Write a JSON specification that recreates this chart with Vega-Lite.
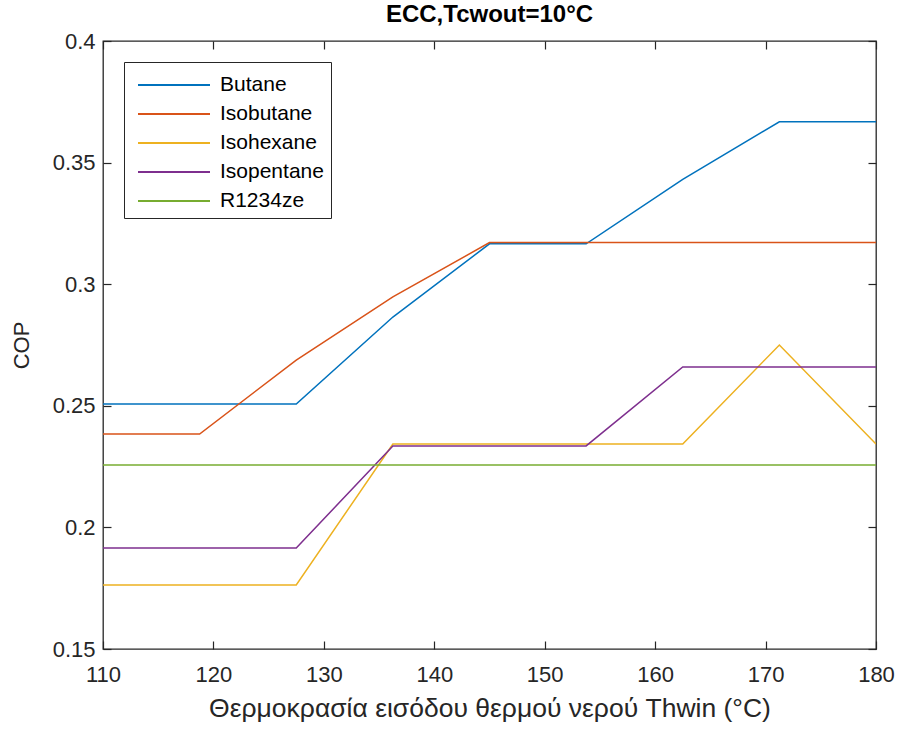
{
  "$schema": "https://vega.github.io/schema/vega-lite/v6.json",
  "width": 773,
  "height": 608,
  "autosize": {"type": "none"},
  "padding": {"left": 103, "top": 41, "right": 27, "bottom": 82},
  "background": "white",
  "title": {"text": "ECC,Tcwout=10°C", "font": "Liberation Sans", "fontSize": 24, "fontWeight": "bold", "color": "#000000", "offset": 3, "anchor": "middle"},
  "config": {
    "view": {"stroke": "#262626", "strokeWidth": 1.3},
    "axis": {"grid": false, "domain": false, "labelFlush": false, "tickColor": "#262626", "tickWidth": 1.2, "labelColor": "#262626", "titleColor": "#262626", "labelFont": "Liberation Sans", "titleFont": "Liberation Sans", "titleFontWeight": "normal"}
  },
  "data": {"values": [
    {"T": 110, "COP": 0.2507, "fluid": "Butane"},
    {"T": 118.75, "COP": 0.2507, "fluid": "Butane"},
    {"T": 127.5, "COP": 0.2507, "fluid": "Butane"},
    {"T": 136.25, "COP": 0.2865, "fluid": "Butane"},
    {"T": 145, "COP": 0.3166, "fluid": "Butane"},
    {"T": 153.75, "COP": 0.3166, "fluid": "Butane"},
    {"T": 162.5, "COP": 0.3431, "fluid": "Butane"},
    {"T": 171.25, "COP": 0.3668, "fluid": "Butane"},
    {"T": 180, "COP": 0.3668, "fluid": "Butane"},
    {"T": 110, "COP": 0.2384, "fluid": "Isobutane"},
    {"T": 118.75, "COP": 0.2384, "fluid": "Isobutane"},
    {"T": 127.5, "COP": 0.2688, "fluid": "Isobutane"},
    {"T": 136.25, "COP": 0.2948, "fluid": "Isobutane"},
    {"T": 145, "COP": 0.3171, "fluid": "Isobutane"},
    {"T": 153.75, "COP": 0.3171, "fluid": "Isobutane"},
    {"T": 162.5, "COP": 0.3171, "fluid": "Isobutane"},
    {"T": 171.25, "COP": 0.3171, "fluid": "Isobutane"},
    {"T": 180, "COP": 0.3171, "fluid": "Isobutane"},
    {"T": 110, "COP": 0.1763, "fluid": "Isohexane"},
    {"T": 118.75, "COP": 0.1763, "fluid": "Isohexane"},
    {"T": 127.5, "COP": 0.1763, "fluid": "Isohexane"},
    {"T": 136.25, "COP": 0.2343, "fluid": "Isohexane"},
    {"T": 145, "COP": 0.2343, "fluid": "Isohexane"},
    {"T": 153.75, "COP": 0.2343, "fluid": "Isohexane"},
    {"T": 162.5, "COP": 0.2343, "fluid": "Isohexane"},
    {"T": 171.25, "COP": 0.2750, "fluid": "Isohexane"},
    {"T": 180, "COP": 0.2343, "fluid": "Isohexane"},
    {"T": 110, "COP": 0.1915, "fluid": "Isopentane"},
    {"T": 118.75, "COP": 0.1915, "fluid": "Isopentane"},
    {"T": 127.5, "COP": 0.1915, "fluid": "Isopentane"},
    {"T": 136.25, "COP": 0.2335, "fluid": "Isopentane"},
    {"T": 145, "COP": 0.2335, "fluid": "Isopentane"},
    {"T": 153.75, "COP": 0.2335, "fluid": "Isopentane"},
    {"T": 162.5, "COP": 0.2660, "fluid": "Isopentane"},
    {"T": 171.25, "COP": 0.2660, "fluid": "Isopentane"},
    {"T": 180, "COP": 0.2660, "fluid": "Isopentane"},
    {"T": 110, "COP": 0.2257, "fluid": "R1234ze"},
    {"T": 118.75, "COP": 0.2257, "fluid": "R1234ze"},
    {"T": 127.5, "COP": 0.2257, "fluid": "R1234ze"},
    {"T": 136.25, "COP": 0.2257, "fluid": "R1234ze"},
    {"T": 145, "COP": 0.2257, "fluid": "R1234ze"},
    {"T": 153.75, "COP": 0.2257, "fluid": "R1234ze"},
    {"T": 162.5, "COP": 0.2257, "fluid": "R1234ze"},
    {"T": 171.25, "COP": 0.2257, "fluid": "R1234ze"},
    {"T": 180, "COP": 0.2257, "fluid": "R1234ze"}
  ]},
  "layer": [
    {
      "mark": {"type": "line", "strokeWidth": 1.5, "clip": true},
      "encoding": {
        "x": {"field": "T", "type": "quantitative", "scale": {"domain": [110, 180], "nice": false, "zero": false},
              "axis": {"orient": "bottom", "values": [110, 120, 130, 140, 150, 160, 170, 180], "offset": -8, "tickSize": 8, "labelPadding": 15, "labelFontSize": 22, "title": "Θερμοκρασία εισόδου θερμού νερού Thwin (°C)", "titleFontSize": 26.5, "titlePadding": 10}},
        "y": {"field": "COP", "type": "quantitative", "scale": {"domain": [0.15, 0.4], "nice": false, "zero": false},
              "axis": {"orient": "left", "values": [0.15, 0.2, 0.25, 0.3, 0.35, 0.4], "format": ".2~f", "offset": -8, "tickSize": 8, "labelPadding": 8, "labelFontSize": 22, "title": "COP", "titleFontSize": 22, "titlePadding": 19}},
        "color": {"field": "fluid", "type": "nominal",
                  "scale": {"domain": ["Butane", "Isobutane", "Isohexane", "Isopentane", "R1234ze"], "range": ["#0072BD", "#D95319", "#EDB120", "#7E2F8E", "#77AC30"]},
                  "legend": {"title": null, "orient": "none", "legendX": 21, "legendY": 21, "symbolType": "M-2.4,0H2.4", "symbolSize": 900, "symbolStrokeWidth": 2, "symbolOffset": 27, "labelFont": "Liberation Sans", "labelFontSize": 21, "labelColor": "#000000", "rowPadding": 3, "padding": 7, "strokeColor": "#262626", "fillColor": "white", "labelOffset": 30}}
      }
    },
    {
      "mark": {"type": "line", "opacity": 0},
      "encoding": {
        "x": {"field": "T", "type": "quantitative", "axis": {"orient": "top", "values": [110, 120, 130, 140, 150, 160, 170, 180], "offset": -8, "tickSize": 8, "labels": false, "title": null}},
        "y": {"field": "COP", "type": "quantitative", "axis": {"orient": "right", "values": [0.15, 0.2, 0.25, 0.3, 0.35, 0.4], "offset": -8, "tickSize": 8, "labels": false, "title": null}},
        "detail": {"field": "fluid"}
      }
    }
  ],
  "resolve": {"axis": {"x": "independent", "y": "independent"}}
}
